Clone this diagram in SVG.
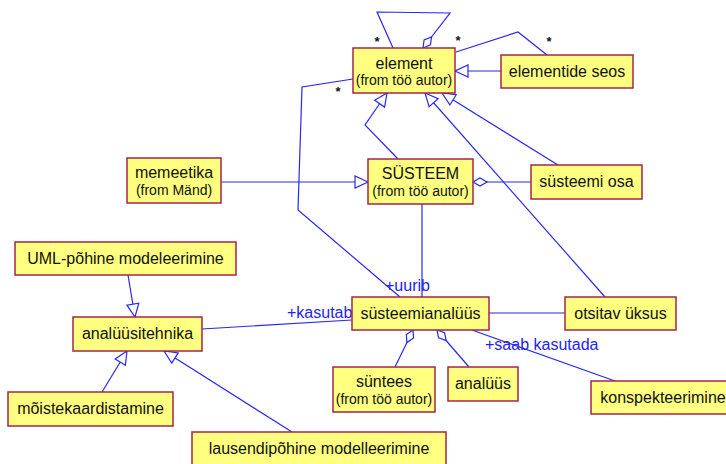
<svg xmlns="http://www.w3.org/2000/svg" width="726" height="464" viewBox="0 0 726 464">
  <defs>
    <style>
      .box { fill: #ffff80; stroke: #a3264c; stroke-width: 1.5; }
      .name { font-family: "Liberation Sans", Arial, sans-serif; font-size: 16px; fill: #111; text-anchor: middle; }
      .from { font-family: "Liberation Sans", Arial, sans-serif; font-size: 14px; fill: #111; text-anchor: middle; }
      .edge { fill: none; stroke: #2828f0; stroke-width: 1.2; }
      .role { font-family: "Liberation Sans", Arial, sans-serif; font-size: 16px; fill: #2424f0; }
      .mult { font-family: "Liberation Sans", Arial, sans-serif; font-size: 13px; font-weight: bold; fill: #111; text-anchor: middle; }
    </style>
    <!-- hollow triangle: generalization -->
    <marker id="gen" markerUnits="userSpaceOnUse" markerWidth="16" markerHeight="16" viewBox="-15 -8 16 16" refX="0" refY="0" orient="auto">
      <path d="M0,0 L-13,-6 L-13,6 Z" fill="#fff" stroke="#2828f0" stroke-width="1.2"/>
    </marker>
    <!-- hollow diamond: aggregation -->
    <marker id="agg" markerUnits="userSpaceOnUse" markerWidth="18" markerHeight="12" viewBox="-16 -6 18 12" refX="0" refY="0" orient="auto">
      <path d="M0,0 L-7,-4 L-14,0 L-7,4 Z" fill="#fff" stroke="#2828f0" stroke-width="1.2"/>
    </marker>
  </defs>

  <rect width="726" height="464" fill="#fff"/>

  <g id="connectors">
    <!-- element self association -->
    <path class="edge" d="M393,48 L377,12 L450,13 L423,48" marker-end="url(#agg)"/>
    <!-- element - elementide seos association -->
    <path class="edge" d="M456,52 L518,32 L547,55"/>
    <!-- generalizations to element -->
    <path class="edge" d="M501,71 L455,71" marker-end="url(#gen)"/>
    <path class="edge" d="M398,159 L365,125 L387,93" marker-end="url(#gen)"/>
    <path class="edge" d="M558,165 L442,93" marker-end="url(#gen)"/>
    <path class="edge" d="M605,297 L425,93" marker-end="url(#gen)"/>
    <!-- element - süsteemianalüüs (+uurib) -->
    <path class="edge" d="M353,79 L302,87 L298,210 L400,297"/>
    <!-- memeetika -> SÜSTEEM -->
    <path class="edge" d="M221,182 L368,182" marker-end="url(#gen)"/>
    <!-- süsteemi osa part of SÜSTEEM -->
    <path class="edge" d="M531,182 L473,182" marker-end="url(#agg)"/>
    <!-- SÜSTEEM - süsteemianalüüs -->
    <path class="edge" d="M422,204 L422,297"/>
    <!-- süsteemianalüüs - otsitav üksus -->
    <path class="edge" d="M489,313 L565,313"/>
    <!-- analüüsitehnika - süsteemianalüüs (+kasutab) -->
    <path class="edge" d="M202,329 L352,320"/>
    <!-- süsteemianalüüs - konspekteerimine (+saab kasutada) -->
    <path class="edge" d="M472,330 L615,381"/>
    <!-- parts of süsteemianalüüs -->
    <path class="edge" d="M395,367 L413,330" marker-end="url(#agg)"/>
    <path class="edge" d="M469,367 L437,330" marker-end="url(#agg)"/>
    <!-- generalizations to analüüsitehnika -->
    <path class="edge" d="M128,275 L135,317" marker-end="url(#gen)"/>
    <path class="edge" d="M102,392 L127,351" marker-end="url(#gen)"/>
    <path class="edge" d="M292,432 L164,351" marker-end="url(#gen)"/>

    <!-- multiplicities -->
    <text class="mult" x="377" y="46">*</text>
    <text class="mult" x="458" y="45">*</text>
    <text class="mult" x="549" y="46">*</text>
    <text class="mult" x="338" y="96">*</text>

    <!-- role names -->
    <text class="role" x="385" y="291">+uurib</text>
    <text class="role" x="287" y="318">+kasutab</text>
    <text class="role" x="485" y="350">+saab kasutada</text>
  </g>

  <g id="element">
    <rect class="box" x="353" y="48" width="102" height="45"/>
    <text class="name" x="404" y="69">element</text>
    <text class="from" x="404" y="85">(from töö autor)</text>
  </g>

  <g id="elementide-seos">
    <rect class="box" x="501" y="55" width="132" height="33"/>
    <text class="name" x="567" y="77">elementide seos</text>
  </g>

  <g id="memeetika">
    <rect class="box" x="127" y="158" width="94" height="45"/>
    <text class="name" x="174" y="178">memeetika</text>
    <text class="from" x="174" y="195">(from Mänd)</text>
  </g>

  <g id="systeem">
    <rect class="box" x="368" y="159" width="105" height="45"/>
    <text class="name" x="420.5" y="179">SÜSTEEM</text>
    <text class="from" x="420.5" y="196">(from töö autor)</text>
  </g>

  <g id="systeemi-osa">
    <rect class="box" x="531" y="165" width="111" height="34"/>
    <text class="name" x="586.5" y="187">süsteemi osa</text>
  </g>

  <g id="uml-pohine-modeleerimine">
    <rect class="box" x="15" y="242" width="221" height="33"/>
    <text class="name" x="125.5" y="264">UML-põhine modeleerimine</text>
  </g>

  <g id="analyysitehnika">
    <rect class="box" x="73" y="317" width="129" height="34"/>
    <text class="name" x="137.5" y="339">analüüsitehnika</text>
  </g>

  <g id="systeemianalyys">
    <rect class="box" x="352" y="297" width="137" height="33"/>
    <text class="name" x="420.5" y="319">süsteemianalüüs</text>
  </g>

  <g id="otsitav-yksus">
    <rect class="box" x="565" y="297" width="111" height="33"/>
    <text class="name" x="620.5" y="319">otsitav üksus</text>
  </g>

  <g id="syntees">
    <rect class="box" x="333" y="367" width="102" height="45"/>
    <text class="name" x="384" y="387">süntees</text>
    <text class="from" x="384" y="404">(from töö autor)</text>
  </g>

  <g id="analyys">
    <rect class="box" x="448" y="367" width="70" height="34"/>
    <text class="name" x="483" y="389">analüüs</text>
  </g>

  <g id="konspekteerimine">
    <rect class="box" x="591" y="381" width="144" height="33"/>
    <text class="name" x="663" y="403">konspekteerimine</text>
  </g>

  <g id="moistekaardistamine">
    <rect class="box" x="8" y="392" width="165" height="34"/>
    <text class="name" x="90.5" y="414">mõistekaardistamine</text>
  </g>

  <g id="lausendipohine-modelleerimine">
    <rect class="box" x="192" y="432" width="254" height="35"/>
    <text class="name" x="319" y="454">lausendipõhine modelleerimine</text>
  </g>
</svg>
